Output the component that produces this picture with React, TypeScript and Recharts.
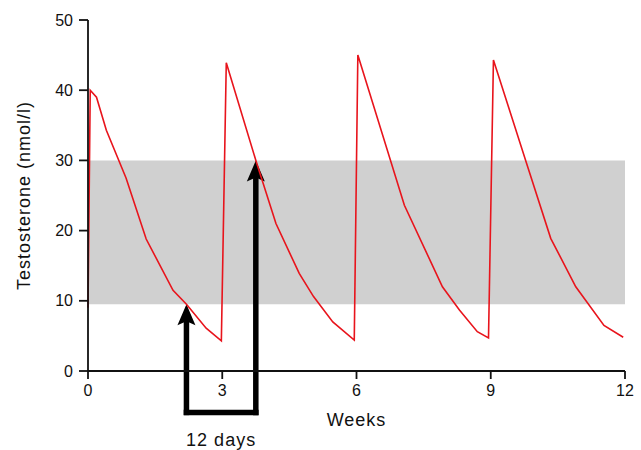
import React from 'react';
import { LineChart, Line, XAxis, YAxis, ReferenceArea, ReferenceLine } from 'recharts';

const weeks = [0, 0.05, 0.19, 0.41, 0.85, 1.3, 1.9, 2.2, 2.64, 2.98, 3.09, 3.76, 4.2, 4.72, 5.04, 5.47, 5.95, 6.03, 7.07, 7.92, 8.3, 8.7, 8.95, 9.06, 9.78, 10.34, 10.9, 11.53, 11.96];
const testosterone = [9, 40, 39, 34.3, 27.5, 18.8, 11.5, 9.5, 6.1, 4.3, 43.9, 29.8, 21, 13.9, 10.6, 7, 4.4, 45, 23.6, 12, 8.7, 5.6, 4.7, 44.3, 30, 18.9, 12, 6.5, 4.8];

const xTicks = [0, 3, 6, 9, 12];
const yTicks = [0, 10, 20, 30, 40, 50];

// normal range band (nmol/l)
const normalRange = [9.5, 30];

// the "12 days" arrows: start week, end week, tip levels, base level
const arrowWeeks = [2.2, 3.75];
const arrowTips = [9.5, 30];
const arrowBase = -5.9;
const arrowLabel = '12 days';

const data = weeks.map((w, i) => ({ week: w, t: testosterone[i] }));

const font = '"Liberation Sans", Arial, Helvetica, sans-serif';
const SHAFT = 5.5;

const ArrowUp = (props: any) => {
  const { x1, y1, x2, y2 } = props;
  const top = Math.min(y1, y2);
  const bottom = Math.max(y1, y2);
  const x = (x1 + x2) / 2;
  return (
    <g>
      <line x1={x} y1={bottom} x2={x} y2={top + 16} stroke="#000" strokeWidth={SHAFT} strokeLinecap="square" />
      <polygon points={`${x},${top} ${x - 9},${top + 21} ${x},${top + 17} ${x + 9},${top + 21}`} fill="#000" />
    </g>
  );
};

const BaseLine = (props: any) => {
  const { x1, y1, x2, y2 } = props;
  return (
    <g>
      <line x1={x1} y1={y1} x2={x2} y2={y2} stroke="#000" strokeWidth={SHAFT} strokeLinecap="square" />
      <text x={(x1 + x2) / 2} y={y1 + 34} textAnchor="middle" fontSize={18} letterSpacing={1} fill="#111" fontFamily={font}>
        {arrowLabel}
      </text>
    </g>
  );
};

export default function App() {
  return (
    <div style={{ width: 641, height: 450 }}>
      <style>{'body{margin:0}'}</style>
      <LineChart width={641} height={450} data={data} margin={{ top: 20, right: 16, bottom: 49, left: 19 }} style={{ fontFamily: font }}>
        <ReferenceArea x1={0} x2={12} y1={normalRange[0]} y2={normalRange[1]} fill="#d0d0d0" fillOpacity={1} stroke="none" ifOverflow="visible" />
        <XAxis
          type="number"
          dataKey="week"
          domain={[0, 12]}
          ticks={xTicks}
          height={30}
          tickSize={8}
          tickMargin={6}
          stroke="#111"
          strokeWidth={1.8}
          tick={{ fill: '#111', fontSize: 16 }}
          label={{ value: 'Weeks', position: 'bottom', offset: 12, fill: '#111', fontSize: 18, letterSpacing: 1 }}
        />
        <YAxis
          type="number"
          domain={[0, 50]}
          ticks={yTicks}
          width={69}
          tickSize={9}
          tickMargin={6}
          stroke="#111"
          strokeWidth={1.8}
          tick={{ fill: '#111', fontSize: 16 }}
          label={{ value: 'Testosterone (nmol/l)', angle: -90, position: 'insideLeft', offset: 5, fill: '#111', fontSize: 18, letterSpacing: 1, style: { textAnchor: 'middle' } }}
        />
        <ReferenceLine segment={[{ x: arrowWeeks[0], y: arrowBase }, { x: arrowWeeks[0], y: arrowTips[0] }]} ifOverflow="visible" shape={ArrowUp} />
        <ReferenceLine segment={[{ x: arrowWeeks[1], y: arrowBase }, { x: arrowWeeks[1], y: arrowTips[1] }]} ifOverflow="visible" shape={ArrowUp} />
        <ReferenceLine segment={[{ x: arrowWeeks[0], y: arrowBase }, { x: arrowWeeks[1], y: arrowBase }]} ifOverflow="visible" shape={BaseLine} />
        <Line type="linear" dataKey="t" stroke="#e8141c" strokeWidth={1.6} dot={false} isAnimationActive={false} />
      </LineChart>
    </div>
  );
}
